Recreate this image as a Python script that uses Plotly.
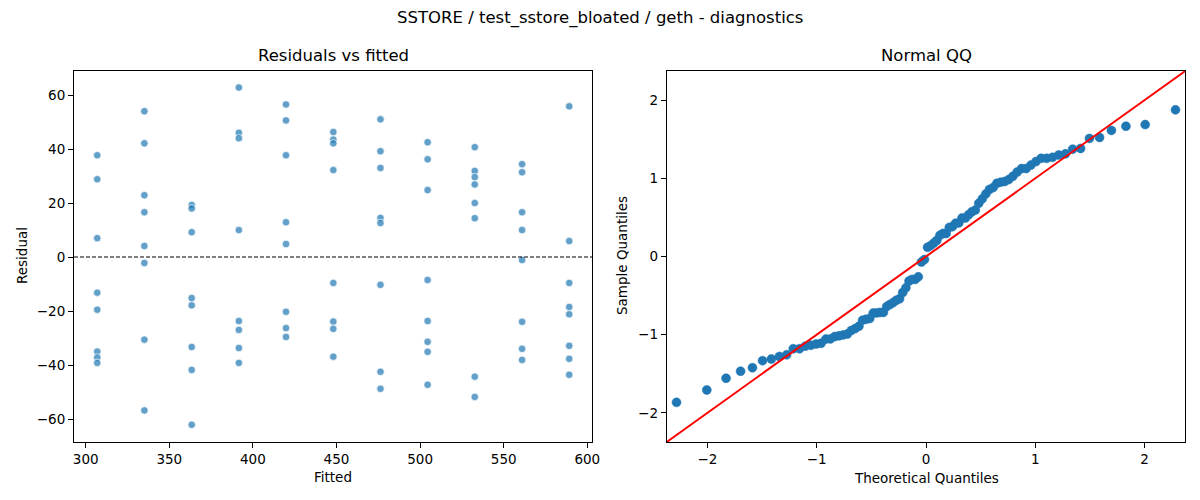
import plotly.graph_objects as go
from statistics import NormalDist, mean, pstdev

# ---- data ----
fitted_levels = [306.9, 335.1, 363.4, 391.6, 419.8, 448.1, 476.3, 504.5, 532.7, 561.0, 589.2]

residuals_by_level = [
    [37.7, 28.8, 7.0, -13.2, -19.5, -35.0, -37.2, -39.2],
    [54.0, 42.1, 22.9, 16.6, 4.1, -2.2, -30.6, -56.8],
    [19.3, 18.0, 9.2, -15.2, -17.9, -33.3, -41.8, -62.1],
    [62.8, 46.0, 44.0, 10.0, -23.7, -27.0, -33.7, -39.2],
    [56.5, 50.6, 37.7, 12.9, 4.8, -20.3, -26.3, -29.6],
    [46.3, 43.5, 42.1, 32.2, -9.6, -23.9, -26.6, -36.9],
    [51.0, 39.2, 33.0, 14.5, 12.6, -10.3, -42.5, -48.8],
    [42.5, 36.2, 24.8, -8.5, -23.7, -31.4, -35.1, -47.3],
    [40.7, 31.9, 29.6, 26.9, 20.0, 14.4, -44.3, -51.8],
    [34.4, 31.4, 16.6, 10.0, -1.1, -24.0, -34.0, -38.1],
    [55.8, 5.9, -9.6, -18.5, -21.2, -32.9, -37.7, -43.6],
]

x_ticks_left = [300, 350, 400, 450, 500, 550, 600]
y_ticks_left = [-60, -40, -20, 0, 20, 40, 60]
ticks_qq = [-2, -1, 0, 1, 2]

suptitle = "SSTORE / test_sstore_bloated / geth - diagnostics"

# ---- derive plotted series ----
fitted = []
resid = []
for lvl, rs in zip(fitted_levels, residuals_by_level):
    for r in rs:
        fitted.append(lvl)
        resid.append(r)

n = len(resid)
mu = mean(resid)
sd = pstdev(resid)
sample_q = sorted((r - mu) / sd for r in resid)
nd = NormalDist()
theo_q = [nd.inv_cdf(i / (n + 1)) for i in range(1, n + 1)]

FONT = "DejaVu Sans"
BLUE = "#1f77b4"

fig = go.Figure()

fig.add_trace(go.Scatter(
    x=fitted, y=resid, mode="markers",
    marker=dict(size=7.5, color="rgba(31,119,180,0.7)",
                line=dict(color="white", width=0.7)),
    xaxis="x", yaxis="y", showlegend=False, hoverinfo="x+y"))

fig.add_trace(go.Scatter(
    x=theo_q, y=sample_q, mode="markers",
    marker=dict(size=9, color=BLUE, line=dict(color=BLUE, width=0.5)),
    xaxis="x2", yaxis="y2", showlegend=False))

QQ_LIM = 2.372
fig.add_trace(go.Scatter(
    x=[-QQ_LIM, QQ_LIM], y=[-QQ_LIM, QQ_LIM], mode="lines",
    line=dict(color="red", width=2), xaxis="x2", yaxis="y2",
    showlegend=False, hoverinfo="skip"))

axis_common = dict(showgrid=False, zeroline=False, showline=True, linecolor="black",
                   linewidth=1, mirror=True, ticks="outside", ticklen=5, tickwidth=1,
                   tickcolor="black", automargin=False,
                   tickfont=dict(family=FONT, size=13.5, color="black"))

L0, L1 = 74 / 1200, 592.3 / 1200
R0, R1 = 666.7 / 1200, 1185.3 / 1200
B0, B1 = 58 / 500, 429 / 500


def ann(text, x, y, size, **kw):
    return dict(text=text, x=x, y=y, xref="paper", yref="paper", showarrow=False,
                xanchor="center", yanchor="middle",
                font=dict(family=FONT, size=size, color="black"), **kw)


fig.update_layout(
    template="none",
    width=1200, height=500, autosize=False,
    margin=dict(l=0, r=0, t=0, b=0, pad=0, autoexpand=False),
    paper_bgcolor="white", plot_bgcolor="white",
    font=dict(family=FONT, color="black"),
    xaxis=dict(domain=[L0, L1], range=[293.0, 603.0],
               tickvals=x_ticks_left, anchor="y", **axis_common),
    yaxis=dict(domain=[B0, B1], range=[-68.5, 68.9],
               tickvals=y_ticks_left, anchor="x", **axis_common),
    xaxis2=dict(domain=[R0, R1], range=[-QQ_LIM, QQ_LIM],
                tickvals=ticks_qq, anchor="y2", **axis_common),
    yaxis2=dict(domain=[B0, B1], range=[-QQ_LIM, QQ_LIM],
                tickvals=ticks_qq, anchor="x2", **axis_common),
    annotations=[
        ann(suptitle, 0.5, 1 - 18 / 500, 16.5),
        ann("Residuals vs fitted", (L0 + L1) / 2, 1 - 56 / 500, 16.5),
        ann("Normal QQ", (R0 + R1) / 2, 1 - 56 / 500, 16.5),
        ann("Fitted", (L0 + L1) / 2, 1 - 477 / 500, 13.5),
        ann("Theoretical Quantiles", (R0 + R1) / 2, 1 - 478 / 500, 13.5),
        ann("Residual", 22 / 1200, 1 - 256 / 500, 13.5, textangle=-90),
        ann("Sample Quantiles", 622 / 1200, 1 - 256 / 500, 13.5, textangle=-90),
    ],
    shapes=[
        dict(type="line", xref="x domain", yref="y", x0=0, x1=1, y0=0, y1=0,
             line=dict(color="black", width=1.1, dash="4px,2px")),
    ],
)

fig.write_html(
    "out.html",
    config={"displayModeBar": False},
    post_script="document.body.style.margin='0';document.body.style.padding='0';"
                "document.documentElement.style.overflow='hidden';",
)
